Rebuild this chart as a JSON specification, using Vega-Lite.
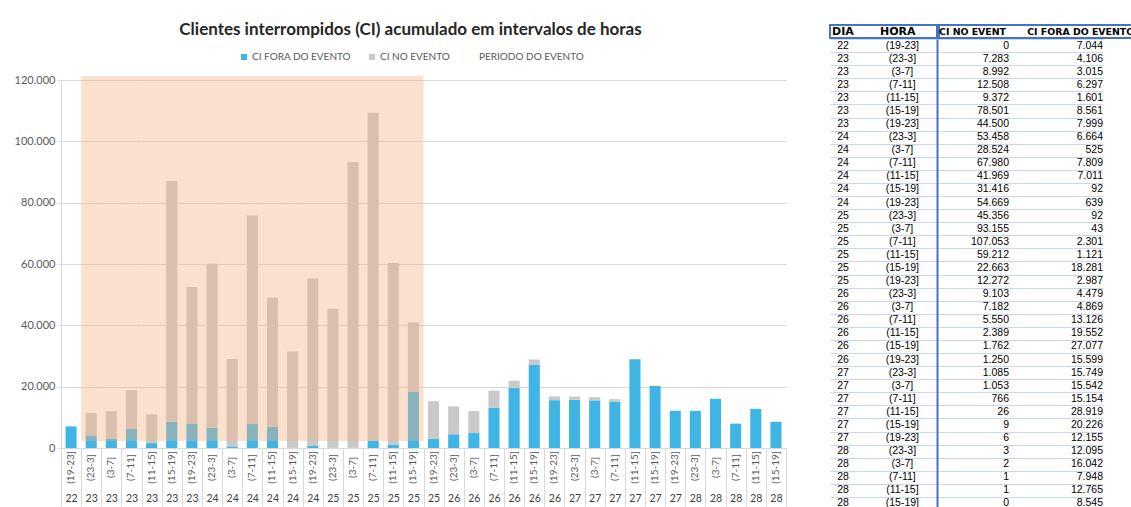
{
  "$schema": "https://vega.github.io/schema/vega-lite/v6.json",
  "padding": {"left": 14, "top": 21, "right": 0, "bottom": 0},
  "background": "white",
  "datasets": {
    "rows": [
      {"DIA": "22", "HORA": "(19-23]", "key": "22|(19-23]", "CI NO EVENTO": 0, "CI FORA DO EVENTO": 7044, "PERIODO": null},
      {"DIA": "23", "HORA": "(23-3]", "key": "23|(23-3]", "CI NO EVENTO": 7283, "CI FORA DO EVENTO": 4106, "PERIODO": 121300},
      {"DIA": "23", "HORA": "(3-7]", "key": "23|(3-7]", "CI NO EVENTO": 8992, "CI FORA DO EVENTO": 3015, "PERIODO": 121300},
      {"DIA": "23", "HORA": "(7-11]", "key": "23|(7-11]", "CI NO EVENTO": 12508, "CI FORA DO EVENTO": 6297, "PERIODO": 121300},
      {"DIA": "23", "HORA": "(11-15]", "key": "23|(11-15]", "CI NO EVENTO": 9372, "CI FORA DO EVENTO": 1601, "PERIODO": 121300},
      {"DIA": "23", "HORA": "(15-19]", "key": "23|(15-19]", "CI NO EVENTO": 78501, "CI FORA DO EVENTO": 8561, "PERIODO": 121300},
      {"DIA": "23", "HORA": "(19-23]", "key": "23|(19-23]", "CI NO EVENTO": 44500, "CI FORA DO EVENTO": 7999, "PERIODO": 121300},
      {"DIA": "24", "HORA": "(23-3]", "key": "24|(23-3]", "CI NO EVENTO": 53458, "CI FORA DO EVENTO": 6664, "PERIODO": 121300},
      {"DIA": "24", "HORA": "(3-7]", "key": "24|(3-7]", "CI NO EVENTO": 28524, "CI FORA DO EVENTO": 525, "PERIODO": 121300},
      {"DIA": "24", "HORA": "(7-11]", "key": "24|(7-11]", "CI NO EVENTO": 67980, "CI FORA DO EVENTO": 7809, "PERIODO": 121300},
      {"DIA": "24", "HORA": "(11-15]", "key": "24|(11-15]", "CI NO EVENTO": 41969, "CI FORA DO EVENTO": 7011, "PERIODO": 121300},
      {"DIA": "24", "HORA": "(15-19]", "key": "24|(15-19]", "CI NO EVENTO": 31416, "CI FORA DO EVENTO": 92, "PERIODO": 121300},
      {"DIA": "24", "HORA": "(19-23]", "key": "24|(19-23]", "CI NO EVENTO": 54669, "CI FORA DO EVENTO": 639, "PERIODO": 121300},
      {"DIA": "25", "HORA": "(23-3]", "key": "25|(23-3]", "CI NO EVENTO": 45356, "CI FORA DO EVENTO": 92, "PERIODO": 121300},
      {"DIA": "25", "HORA": "(3-7]", "key": "25|(3-7]", "CI NO EVENTO": 93155, "CI FORA DO EVENTO": 43, "PERIODO": 121300},
      {"DIA": "25", "HORA": "(7-11]", "key": "25|(7-11]", "CI NO EVENTO": 107053, "CI FORA DO EVENTO": 2301, "PERIODO": 121300},
      {"DIA": "25", "HORA": "(11-15]", "key": "25|(11-15]", "CI NO EVENTO": 59212, "CI FORA DO EVENTO": 1121, "PERIODO": 121300},
      {"DIA": "25", "HORA": "(15-19]", "key": "25|(15-19]", "CI NO EVENTO": 22663, "CI FORA DO EVENTO": 18281, "PERIODO": 121300},
      {"DIA": "25", "HORA": "(19-23]", "key": "25|(19-23]", "CI NO EVENTO": 12272, "CI FORA DO EVENTO": 2987, "PERIODO": null},
      {"DIA": "26", "HORA": "(23-3]", "key": "26|(23-3]", "CI NO EVENTO": 9103, "CI FORA DO EVENTO": 4479, "PERIODO": null},
      {"DIA": "26", "HORA": "(3-7]", "key": "26|(3-7]", "CI NO EVENTO": 7182, "CI FORA DO EVENTO": 4869, "PERIODO": null},
      {"DIA": "26", "HORA": "(7-11]", "key": "26|(7-11]", "CI NO EVENTO": 5550, "CI FORA DO EVENTO": 13126, "PERIODO": null},
      {"DIA": "26", "HORA": "(11-15]", "key": "26|(11-15]", "CI NO EVENTO": 2389, "CI FORA DO EVENTO": 19552, "PERIODO": null},
      {"DIA": "26", "HORA": "(15-19]", "key": "26|(15-19]", "CI NO EVENTO": 1762, "CI FORA DO EVENTO": 27077, "PERIODO": null},
      {"DIA": "26", "HORA": "(19-23]", "key": "26|(19-23]", "CI NO EVENTO": 1250, "CI FORA DO EVENTO": 15599, "PERIODO": null},
      {"DIA": "27", "HORA": "(23-3]", "key": "27|(23-3]", "CI NO EVENTO": 1085, "CI FORA DO EVENTO": 15749, "PERIODO": null},
      {"DIA": "27", "HORA": "(3-7]", "key": "27|(3-7]", "CI NO EVENTO": 1053, "CI FORA DO EVENTO": 15542, "PERIODO": null},
      {"DIA": "27", "HORA": "(7-11]", "key": "27|(7-11]", "CI NO EVENTO": 766, "CI FORA DO EVENTO": 15154, "PERIODO": null},
      {"DIA": "27", "HORA": "(11-15]", "key": "27|(11-15]", "CI NO EVENTO": 26, "CI FORA DO EVENTO": 28919, "PERIODO": null},
      {"DIA": "27", "HORA": "(15-19]", "key": "27|(15-19]", "CI NO EVENTO": 9, "CI FORA DO EVENTO": 20226, "PERIODO": null},
      {"DIA": "27", "HORA": "(19-23]", "key": "27|(19-23]", "CI NO EVENTO": 6, "CI FORA DO EVENTO": 12155, "PERIODO": null},
      {"DIA": "28", "HORA": "(23-3]", "key": "28|(23-3]", "CI NO EVENTO": 3, "CI FORA DO EVENTO": 12095, "PERIODO": null},
      {"DIA": "28", "HORA": "(3-7]", "key": "28|(3-7]", "CI NO EVENTO": 2, "CI FORA DO EVENTO": 16042, "PERIODO": null},
      {"DIA": "28", "HORA": "(7-11]", "key": "28|(7-11]", "CI NO EVENTO": 1, "CI FORA DO EVENTO": 7948, "PERIODO": null},
      {"DIA": "28", "HORA": "(11-15]", "key": "28|(11-15]", "CI NO EVENTO": 1, "CI FORA DO EVENTO": 12765, "PERIODO": null},
      {"DIA": "28", "HORA": "(15-19]", "key": "28|(15-19]", "CI NO EVENTO": 0, "CI FORA DO EVENTO": 8545, "PERIODO": null}
    ]
  },
  "hconcat": [
    {
      "spacing": 36,
      "vconcat": [
        {
          "width": 725,
          "height": 10,
          "data": {"values": [{"titulo": "Clientes interrompidos (CI) acumulado em intervalos de horas"}]},
          "mark": {"type": "text", "font": "Lato", "fontSize": 17, "fontWeight": "bold", "color": "#262626", "align": "center", "baseline": "middle", "dx": -13},
          "encoding": {"text": {"field": "titulo"}}
        },
        {
          "width": 725,
          "height": 368,
          "data": {"name": "rows"},
          "layer": [
            {
              "transform": [{"fold": ["CI FORA DO EVENTO", "CI NO EVENTO"], "as": ["serie", "valor"]}],
              "mark": {"type": "bar", "width": {"band": 0.55}},
              "encoding": {
                "x": {"field": "key", "type": "nominal", "sort": null, "scale": {"paddingInner": 0, "paddingOuter": 0},
                      "axis": {"orient": "bottom", "title": null, "labelExpr": "isValid(datum.value) ? split(datum.value, '|')[1] : ''", "labelAngle": 270, "labelAlign": "center", "labelBaseline": "middle", "ticks": false, "labelPadding": 19, "domainColor": "#D9D9D9", "labelFontSize": 10, "labelColor": "#595959", "labelFont": "Lato", "grid": false}},
                "y": {"field": "valor", "type": "quantitative", "stack": "zero", "scale": {"domain": [0, 120000], "nice": false},
                      "axis": {"title": null, "values": [0, 20000, 40000, 60000, 80000, 100000, 120000], "format": ",d"}},
                "color": {"field": "serie", "type": "nominal",
                          "scale": {"domain": ["CI FORA DO EVENTO", "CI NO EVENTO", "PERIODO DO EVENTO"], "range": ["#3FB5E5", "#C9C9C9", "#FFFFFF"]},
                          "legend": {"orient": "none", "legendX": 178, "legendY": 27, "direction": "horizontal", "title": null, "symbolType": "square", "symbolSize": 36, "labelOffset": 3, "labelFontSize": 10, "labelColor": "#595959", "labelFont": "Lato", "columnPadding": 16, "symbolStrokeWidth": 0}},
                "order": {"field": "serie", "sort": "ascending"}
              }
            },
            {
              "mark": {"type": "bar", "width": {"band": 1}, "color": "#F4B183", "opacity": 0.4},
              "encoding": {
                "x": {"field": "key", "type": "nominal", "sort": null,
                      "axis": {"orient": "bottom", "title": null, "labelExpr": "isValid(datum.value) ? split(datum.value, '|')[0] : ''", "labelAngle": 0, "labelAlign": "center", "labelBaseline": "middle", "tickBand": "extent", "tickSize": 58, "tickColor": "#D9D9D9", "labelPadding": -8, "domain": false, "labelFontSize": 10.5, "labelColor": "#404040", "labelFont": "Lato", "grid": false}},
                "y": {"field": "PERIODO", "type": "quantitative", "stack": null},
                "y2": {"datum": 2300}
              }
            }
          ],
          "resolve": {"axis": {"x": "independent"}}
        }
      ]
    },
    {
      "spacing": 0,
      "vconcat": [
        {
          "spacing": 0,
          "hconcat": [
            {
              "width": 107, "height": 13,
              "view": {"stroke": "#4472C4", "strokeWidth": 2},
              "data": {"values": [{"col": "DIA"}, {"col": "HORA"}]},
              "mark": {"type": "text", "align": "left", "baseline": "middle", "font": "DejaVu Sans", "fontSize": 11, "fontWeight": "bold", "color": "#000000"},
              "encoding": {
                "x": {"field": "col", "type": "nominal", "sort": null, "scale": {"type": "point", "padding": 0.615, "align": 0.034}, "axis": null},
                "text": {"field": "col"}
              }
            },
            {
              "width": 194, "height": 13,
              "view": {"stroke": "#4472C4", "strokeWidth": 2},
              "data": {"values": [{"col": "CI NO EVENT"}, {"col": "CI FORA DO EVENTO"}]},
              "mark": {"type": "text", "align": "left", "baseline": "middle", "font": "DejaVu Sans", "fontSize": 9.4, "fontWeight": "bold", "color": "#000000"},
              "encoding": {
                "x": {"field": "col", "type": "nominal", "sort": null, "scale": {"type": "point", "padding": 0.6, "align": 0.0}, "axis": null},
                "text": {"field": "col"}
              }
            }
          ]
        },
        {
          "spacing": 0,
          "hconcat": [
            {
              "width": 107, "height": 471,
              "data": {"name": "rows"},
              "encoding": {
                "y": {"field": "key", "type": "nominal", "sort": null, "scale": {"type": "band", "paddingInner": 0, "paddingOuter": 0},
                      "axis": {"title": null, "grid": true, "tickBand": "extent", "labels": false, "ticks": false, "domain": false, "gridColor": "#C9D7EE", "gridWidth": 1}}
              },
              "layer": [
                {
                  "mark": {"type": "text", "align": "right", "baseline": "middle", "font": "Liberation Sans", "fontSize": 10.5, "color": "#000000"},
                  "encoding": {
                    "x": {"datum": "DIA", "type": "nominal", "scale": {"type": "point", "domain": ["DIA", "HORA"], "padding": 0.5, "align": 0.353}, "axis": null},
                    "text": {"field": "DIA"}
                  }
                },
                {
                  "mark": {"type": "text", "align": "center", "baseline": "middle", "font": "Liberation Sans", "fontSize": 10.5, "color": "#000000"},
                  "encoding": {
                    "x": {"datum": "HORA", "type": "nominal", "axis": null},
                    "text": {"field": "HORA"}
                  }
                }
              ]
            },
            {
              "width": 166, "height": 471,
              "data": {"name": "rows"},
              "encoding": {
                "y": {"field": "key", "type": "nominal", "sort": null, "scale": {"type": "band", "paddingInner": 0, "paddingOuter": 0},
                      "axis": {"title": null, "grid": true, "tickBand": "extent", "labels": false, "ticks": false, "domain": true, "domainColor": "#4472C4", "domainWidth": 2, "gridColor": "#C9D7EE", "gridWidth": 1}}
              },
              "layer": [
                {
                  "mark": {"type": "text", "align": "right", "baseline": "middle", "font": "Liberation Sans", "fontSize": 10.5, "color": "#000000"},
                  "encoding": {
                    "x": {"datum": "CI NO EVENT", "type": "nominal", "scale": {"type": "point", "domain": ["CI NO EVENT", "CI FORA DO EVENTO"], "padding": 0.383, "align": 1}, "axis": null},
                    "text": {"field": "CI NO EVENTO", "type": "quantitative", "format": ","}
                  }
                },
                {
                  "mark": {"type": "text", "align": "right", "baseline": "middle", "font": "Liberation Sans", "fontSize": 10.5, "color": "#000000"},
                  "encoding": {
                    "x": {"datum": "CI FORA DO EVENTO", "type": "nominal", "axis": null},
                    "text": {"field": "CI FORA DO EVENTO", "type": "quantitative", "format": ","}
                  }
                }
              ]
            }
          ]
        }
      ]
    }
  ],
  "spacing": 42,
  "config": {
    "locale": {"number": {"decimal": ",", "thousands": ".", "grouping": [3], "currency": ["", ""]}},
    "view": {"stroke": null},
    "font": "Lato",
    "axisY": {"gridColor": "#D9D9D9", "domainColor": "#D9D9D9", "tickColor": "#D9D9D9", "tickSize": 4, "labelPadding": 2, "labelFontSize": 11, "labelColor": "#595959", "labelFont": "Lato"}
  }
}
